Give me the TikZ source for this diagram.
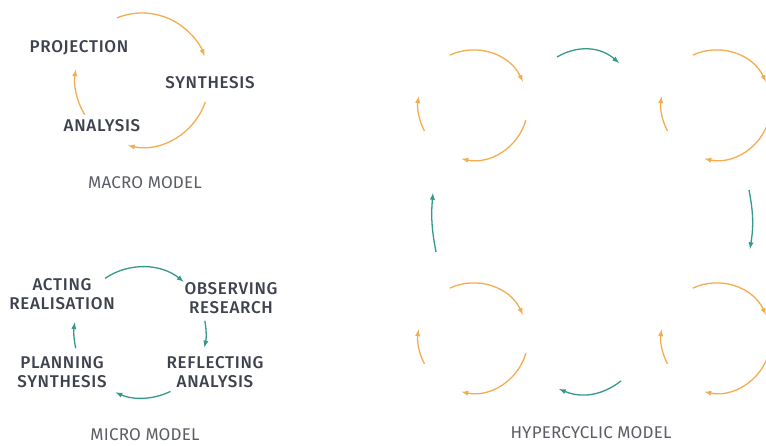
\documentclass[tikz,border=0pt]{standalone}
\usepackage{fontspec}
\setmainfont{Fira Sans}
\newfontfamily\labfont{Fira Sans Medium}[LetterSpace=4]
\newfontfamily\capfont{Fira Sans}[LetterSpace=1]
\usetikzlibrary{positioning}
\definecolor{cycorange}{HTML}{F3AC4E}
\definecolor{cycteal}{HTML}{34998A}
\definecolor{labgray}{HTML}{3E414E}
\definecolor{capgray}{HTML}{5A5C66}

\begin{document}
\begin{tikzpicture}[x=1pt,y=1pt,
  lab/.style={font=\labfont\fontsize{17}{18.5}\selectfont, text=labgray, align=center},
  capt/.style={font=\capfont\fontsize{17}{18}\selectfont, text=capgray},
  orarc/.style={cycorange, line width=1.3pt, >=latex, ->},
  tlarc/.style={cycteal, line width=1.3pt, >=latex, ->}]
\useasboundingbox (0,0) rectangle (766,-446);
\clip (0,0) rectangle (766,-446);

% Macro model
\coordinate (mac) at (142,-80);
\node[lab] (proj) at (79,-48) {PROJECTION};
\node[lab] (synth) at (210,-83) {SYNTHESIS};
\node[lab] (anal) at (102,-126) {ANALYSIS};
\draw[orarc] ([shift={(112:67)}]mac) arc[start angle=112, end angle=21, radius=67];
\draw[orarc] ([shift={(-19:67)}]mac) arc[start angle=-19, end angle=-102, radius=67];
\draw[orarc] ([shift={(211:67)}]mac) arc[start angle=211, end angle=171, radius=67];
\node[capt] (macro) at (145,-183) {MACRO MODEL};

% Micro model
\coordinate (mic) at (142,-333);
\node[lab] (act) at (62,-294) {ACTING\\REALISATION};
\node[lab] (obs) at (231,-298) {OBSERVING\\RESEARCH};
\node[lab] (refl) at (215,-372) {REFLECTING\\ANALYSIS};
\node[lab] (plan) at (62,-372) {PLANNING\\SYNTHESIS};
\draw[tlarc] ([shift={(124:66)}]mic) arc[start angle=124, end angle=51, radius=66];
\draw[tlarc] ([shift={(11:64)}]mic) arc[start angle=11, end angle=-13, radius=64];
\draw[tlarc] ([shift={(-64:65)}]mic) arc[start angle=-64, end angle=-114, radius=65];
\draw[tlarc] ([shift={(193:68)}]mic) arc[start angle=193, end angle=171, radius=68];
\node[capt] (micro) at (145,-435) {MICRO MODEL};

% Hypercyclic model
\foreach \cx/\cy [count=\i] in {473/-105, 716/-105, 473/-338, 716/-338}{
  \coordinate (hc\i) at (\cx,\cy);
  \draw[orarc] ([shift={(115:55)}]hc\i) arc[start angle=115, end angle=25, radius=55];
  \draw[orarc] ([shift={(-16:55)}]hc\i) arc[start angle=-16, end angle=-102, radius=55];
  \draw[orarc] ([shift={(208:55)}]hc\i) arc[start angle=208, end angle=171, radius=55];
}
\coordinate (t1) at (557,-57);
\coordinate (t2) at (619,-63);
\coordinate (r1) at (749,-190);
\coordinate (r2) at (750,-249);
\coordinate (b1) at (621,-381);
\coordinate (b2) at (559,-389);
\coordinate (l1) at (436,-252);
\coordinate (l2) at (433,-193);
\draw[tlarc] (t1) to[bend left=36] (t2);
\draw[tlarc] (r1) to[bend left=10] (r2);
\draw[tlarc] (b1) to[bend left=30] (b2);
\draw[tlarc] (l1) to[bend left=8] (l2);
\node[capt] (hyper) at (591,-433) {HYPERCYCLIC MODEL};
\end{tikzpicture}
\end{document}
